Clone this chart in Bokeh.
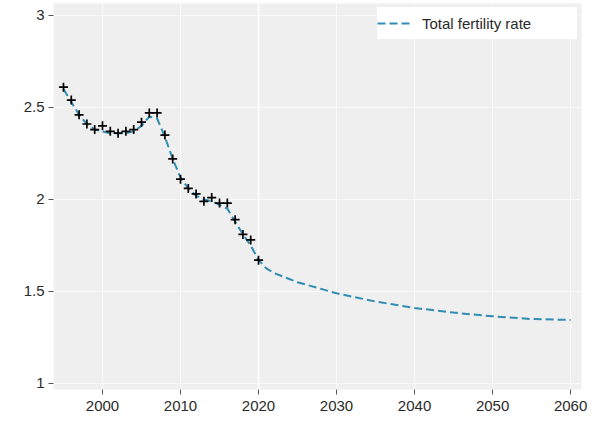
from bokeh.plotting import figure
from bokeh.models import Range1d, FixedTicker, Span, Legend, LegendItem
from bokeh.embed import file_html
from bokeh.resources import INLINE

# Observed total fertility rate (annual estimates)
obs_years = list(range(1995, 2021))
obs_tfr = [2.61, 2.54, 2.46, 2.41, 2.38, 2.40, 2.37, 2.36, 2.37, 2.38,
           2.42, 2.47, 2.47, 2.35, 2.22, 2.11, 2.06, 2.03, 1.99, 2.01,
           1.98, 1.98, 1.89, 1.81, 1.78, 1.67]

# Fitted trend through the observations, followed by the projection
trend_years = list(range(1995, 2021)) + [2021, 2022, 2025, 2030, 2035, 2040, 2045, 2050, 2055, 2060]
trend_tfr = [2.60, 2.53, 2.46, 2.41, 2.38, 2.37, 2.36, 2.36, 2.36, 2.37,
             2.40, 2.45, 2.44, 2.34, 2.22, 2.12, 2.06, 2.02, 2.00, 1.99,
             1.97, 1.95, 1.88, 1.81, 1.75, 1.67,
             1.625, 1.60, 1.55, 1.49, 1.445, 1.41, 1.385, 1.365, 1.35, 1.345]

x_ticks = [2000, 2010, 2020, 2030, 2040, 2050, 2060]
y_ticks = [1, 1.5, 2, 2.5, 3]
y_labels = ["1", "1.5", "2", "2.5", "3"]

FONT = "Liberation Sans"
LINE_COLOR = "#2f8db3"

p = figure(width=594, height=425, output_backend="svg", toolbar_location=None,
           x_range=Range1d(1993.72, 2061.4), y_range=Range1d(0.967, 3.065),
           min_border_left=53, min_border_right=13, min_border_top=3, min_border_bottom=36)

p.background_fill_color = "#efefef"
p.border_fill_color = "white"
p.outline_line_color = None

for ax in (p.xaxis[0], p.yaxis[0]):
    ax.axis_line_color = None
    ax.minor_tick_line_color = None
    ax.major_tick_line_color = "#555555"
    ax.major_tick_line_width = 1
    ax.major_tick_in = 0
    ax.major_tick_out = 5
    ax.major_label_text_font = FONT
    ax.major_label_text_font_size = "15px"
    ax.major_label_text_color = "#2a2a2a"
    ax.major_label_standoff = 4
p.xaxis.major_label_standoff = 6

p.xaxis.ticker = FixedTicker(ticks=x_ticks)
p.yaxis.ticker = FixedTicker(ticks=y_ticks)
p.yaxis.major_label_overrides = {float(t): s for t, s in zip(y_ticks, y_labels)}

p.xgrid.ticker = FixedTicker(ticks=x_ticks)
p.ygrid.ticker = FixedTicker(ticks=y_ticks)
p.grid.grid_line_color = "white"
p.grid.grid_line_alpha = 0.6
p.grid.grid_line_width = 1

# Start of the projection period, drawn beneath the data
p.add_layout(Span(location=2020, dimension="height", line_color="white",
                  line_width=1.6, level="underlay"))

trend = p.line(trend_years, trend_tfr, line_color=LINE_COLOR, line_width=2, line_dash="8 4")
p.scatter(obs_years, obs_tfr, marker="cross", size=9, line_color="black", line_width=1.7)

legend = Legend(items=[LegendItem(label="Total fertility rate", renderers=[trend])],
                location="top_right", margin=4, padding=7, spacing=0,
                glyph_width=36, glyph_height=32, label_height=32, label_width=155,
                label_standoff=9, label_text_font=FONT, label_text_font_size="15px",
                label_text_color="#2a2a2a", border_line_color=None,
                background_fill_color="white", background_fill_alpha=1.0)
p.add_layout(legend)

open("out.html", "w").write(file_html(p, INLINE))
